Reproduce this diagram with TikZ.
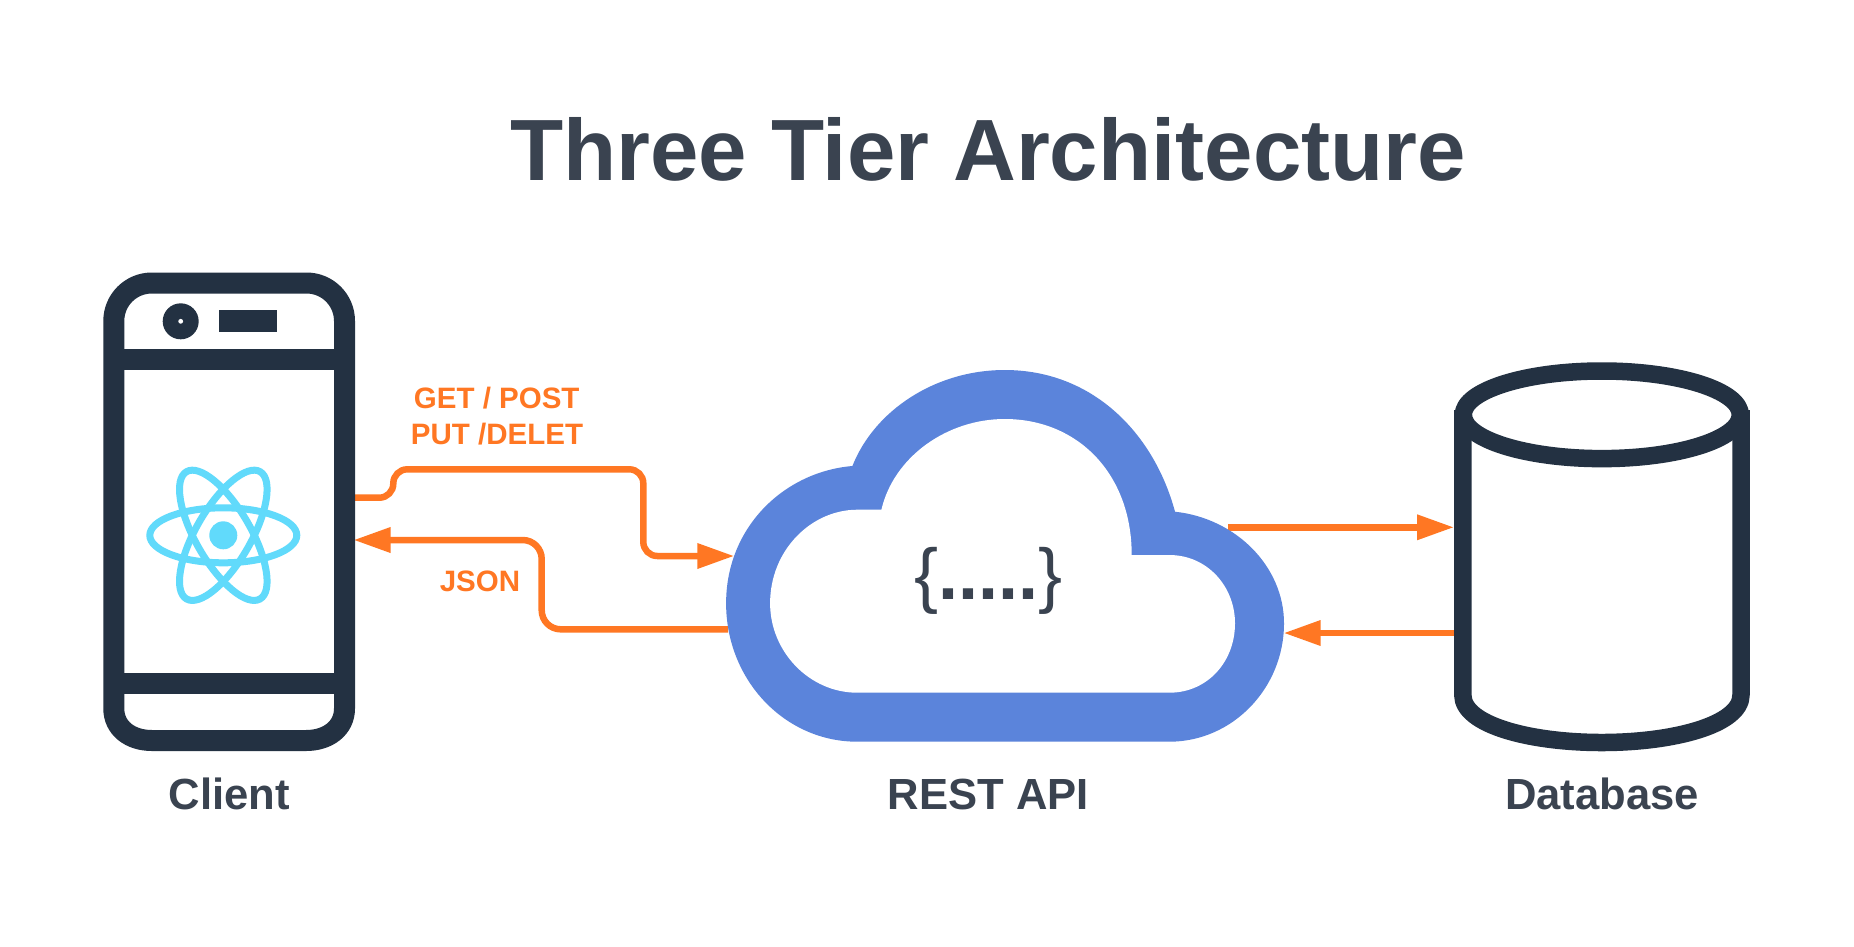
\documentclass[tikz,border=0pt]{standalone}
\usepackage{fontspec}
\setmainfont{Liberation Sans}
\usetikzlibrary{arrows.meta}
\definecolor{navy}{HTML}{233142}
\definecolor{inkc}{HTML}{3A4350}
\definecolor{flowc}{HTML}{FF7723}
\definecolor{cloudc}{HTML}{5B84DB}
\definecolor{reactc}{HTML}{61DAFB}
\tikzset{
  x=1pt,y=-1pt,
  device/.style={draw=navy,line width=21pt,line join=round},
  dbline/.style={draw=navy,line width=17.5pt,line join=round},
  atom/.style={draw=reactc,line width=7pt},
  flow/.style={draw=flowc,line width=6.5pt,-{Triangle[length=37pt,width=24pt,fill=flowc]}},
  flowlabel/.style={text=flowc,font=\fontsize{29.5}{29.5}\selectfont\bfseries,anchor=center,inner sep=0pt},
  caption/.style={text=inkc,font=\fontsize{43.6}{43.6}\selectfont\bfseries,anchor=center,inner sep=0pt},
}
\begin{document}
\begin{tikzpicture}
\useasboundingbox (0,0) rectangle (1854,946);
\fill[white] (0,0) rectangle (1854,946);
% title
\node[text=inkc,font=\fontsize{87}{87}\selectfont\bfseries,inner sep=0pt] (title) at (988,149) {Three Tier Architecture};
% anchors for connectors
\coordinate (phoneA) at (353.3,497.7);
\coordinate (phoneB) at (353.5,540);
\coordinate (cloudA) at (734.3,556);
\coordinate (cloudB) at (728,629.3);
\coordinate (cloudC) at (1228,527.3);
\coordinate (cloudD) at (1283.6,633);
\coordinate (dbA) at (1454,527.3);
\coordinate (dbB) at (1455,633);
% connectors
\draw[flow,rounded corners=14pt] (phoneA) -- (393.3,497.7) -- (393.3,469.3) -- (643.3,469.3) -- (643.3,556) -- (cloudA);
\draw[flow,rounded corners=19pt] (cloudB) -- (541.7,629.3) -- (541.7,540) -- (phoneB);
\draw[flow] (cloudC) -- (dbA);
\draw[flow] (dbB) -- (cloudD);
% phone
\draw[device] (113.8,321) .. controls (113.8,300) and (130.8,283) .. (151.8,283) -- (306.5,283)
  .. controls (327.5,283) and (344.5,300) .. (344.5,321) -- (344.5,708.5)
  .. controls (344.5,728) and (328,740.5) .. (306,740.5) -- (152,740.5)
  .. controls (130,740.5) and (113.8,728) .. (113.8,708.5) -- cycle;
\draw[device,line join=miter] (113.8,359.2) -- (344.5,359.2);
\draw[device,line join=miter] (113.8,683.5) -- (344.5,683.5);
\fill[navy] (180.7,321.3) circle (18);
\fill[white] (180.7,321.3) circle (2.4);
\fill[navy] (218.7,310.3) rectangle (277.3,331.7);
% react logo
\coordinate (atomc) at (223.3,535.3);
\draw[atom] (atomc) ellipse (73.5 and 27.5);
\draw[atom,rotate around={60:(atomc)}] (atomc) ellipse (73.5 and 27.5);
\draw[atom,rotate around={-60:(atomc)}] (atomc) ellipse (73.5 and 27.5);
\fill[reactc] (atomc) circle (14);
% cloud
\fill[cloudc] (857.3,741.7)
  .. controls (784.6,741.7) and (726.1,680) .. (726.1,603.3)
  .. controls (726.1,526.7) and (784.6,471.7) .. (852.4,466)
  .. controls (874.6,410) and (935.8,370) .. (1004.7,370)
  .. controls (1092.7,370) and (1153.9,433.3) .. (1175,511.7)
  .. controls (1236.2,518.3) and (1284,566.7) .. (1284,623.3)
  .. controls (1284,688.3) and (1232.4,741.7) .. (1169.2,741.7) -- cycle;
\fill[white] (857.3,692.7)
  .. controls (809.5,692.7) and (770.1,651.7) .. (770.1,603.3)
  .. controls (770.1,550) and (811.4,509.7) .. (857.3,509.7) -- (881.4,509.7)
  .. controls (893.7,456.7) and (947.3,419) .. (1004.7,419)
  .. controls (1077.4,419) and (1131.7,473.3) .. (1131.7,555) -- (1169.2,555)
  .. controls (1207.5,555) and (1235,586.7) .. (1235,623.3)
  .. controls (1235,661.7) and (1207.5,692.7) .. (1169.2,692.7) -- cycle;
\node[text=inkc,font=\fontsize{72}{72}\selectfont,inner sep=0pt] (payload) at (988.6,580.5) {\{{\bfseries .....}\}};
% database
\draw[dbline] (1462.8,410) -- (1462.8,695)
  .. controls (1462.8,725) and (1530,742.5) .. (1601.8,742.5)
  .. controls (1673,742.5) and (1741,725) .. (1741,695) -- (1741,410);
\draw[dbline] (1601.8,414.8) ellipse (138.5 and 43.8);
% labels
\node[flowlabel] (verbsA) at (496.7,398.5) {GET / POST};
\node[flowlabel] (verbsB) at (497,434.5) {PUT /DELET};
\node[flowlabel] (json) at (480,581.5) {JSON};
\node[caption] (clientlabel) at (229.4,794) {Client};
\node[caption] (apilabel) at (988.5,794) {REST API};
\node[caption] (dblabel) at (1602,794) {Database};
\end{tikzpicture}
\end{document}
